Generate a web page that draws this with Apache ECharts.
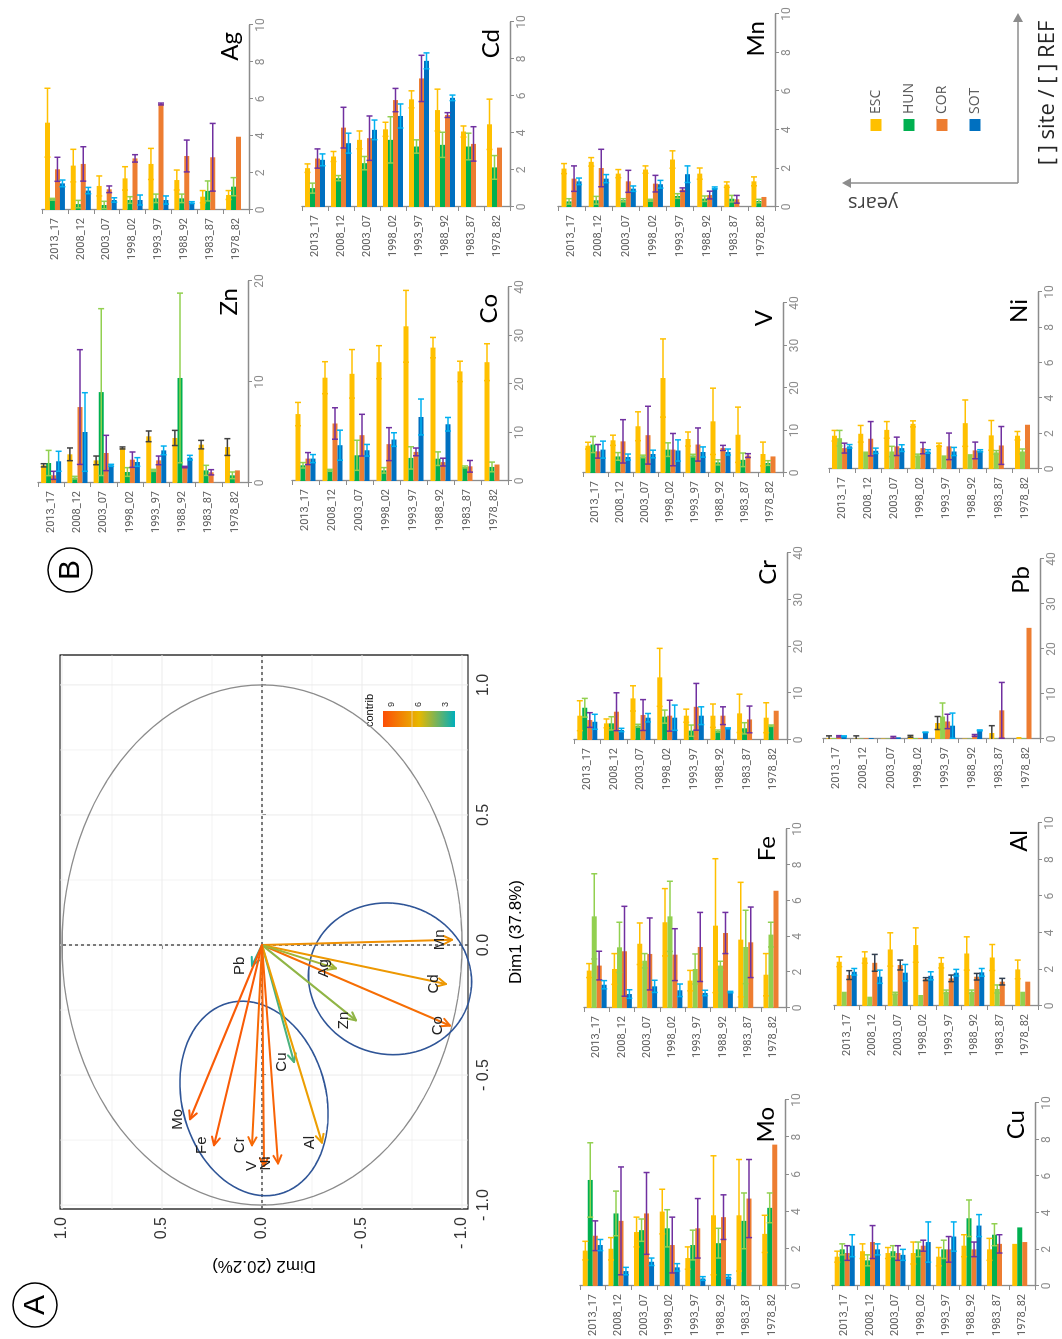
<!DOCTYPE html>
<html>
<head>
<meta charset="utf-8">
<script src="https://cdn.jsdelivr.net/npm/echarts@6/dist/echarts.min.js"></script>
<style>
  html, body { margin: 0; padding: 0; background: #fff; width: 1062px; height: 1339px; overflow: hidden; }
  /* the figure is laid out in landscape and turned a quarter turn */
  #fig { position: absolute; left: 0; top: 0; width: 1339px; height: 1062px;
         transform-origin: 0 0; transform: translateY(1339px) rotate(-90deg); }
</style>
</head>
<body>
<div id="fig"></div>
<script>
// ---------------- data ----------------
const YEARS = ['2013_17', '2008_12', '2003_07', '1998_02', '1993_97', '1988_92', '1983_87', '1978_82'];
const SITES = ['ESC', 'HUN', 'COR', 'SOT'];

// site / REF ratios, one row per site (ESC, HUN, COR, SOT); *Sd = standard deviation
const ag   = [[4.72, 2.40, 1.30, 1.71, 2.49, 1.62, 0.72, 0.81],
              [0.58, 0.32, 0.27, 0.54, 0.63, 0.63, 1.03, 1.26],
              [2.20, 2.49, 1.12, 2.79, 5.73, 2.92, 2.85, 3.96],
              [1.44, 1.05, 0.54, 0.54, 0.54, 0.40, null, null]];
const agSd = [[1.86, 0.88, 0.54, 0.63, 0.84, 0.54, 0.33, 0.24],
              [0.05, 0.20, 0.20, 0.18, 0.23, 0.23, 0.54, 0.49],
              [0.65, 0.93, 0.18, 0.20, 0.05, 0.86, 1.83, 0],
              [0.18, 0.17, 0.12, 0.27, 0.22, 0.05, null, null]];

const cd   = [[2.10, 2.73, 3.63, 4.20, 5.82, 5.24, 4.08, 4.47],
              [1.02, 1.56, 2.37, 3.63, 3.27, 3.36, 3.27, 2.14],
              [2.62, 4.29, 3.72, 5.78, 6.95, 4.97, 3.41, 3.21],
              [2.55, 3.45, 4.17, 4.92, 7.90, 5.90, null, null]];
const cdSd = [[0.23, 0.27, 0.48, 0.38, 0.46, 1.13, 0.30, 1.36],
              [0.27, 0.14, 0.36, 1.25, 0.36, 0.68, 0.72, 0.64],
              [0.52, 1.10, 1.20, 0.63, 1.25, 0.13, 0.93, 0],
              [0.32, 0.54, 0.53, 0.65, 0.43, 0.15, null, null]];

const mn   = [[1.99, 2.34, 1.73, 1.94, 2.46, 1.73, 1.16, 1.33],
              [0.29, 0.35, 0.35, 0.35, 0.57, 0.43, 0.43, 0.31],
              [1.47, 2.02, 1.33, 1.21, 0.90, 0.62, 0.40, 0.52],
              [1.33, 1.47, 0.95, 1.18, 1.70, 0.99, null, null]];
const mnSd = [[0.26, 0.22, 0.21, 0.19, 0.45, 0.29, 0.14, 0.23],
              [0.14, 0.20, 0.08, 0.05, 0.12, 0.14, 0.17, 0.09],
              [0.66, 0.97, 0.57, 0.43, 0.09, 0.20, 0.20, 0],
              [0.17, 0.21, 0.14, 0.20, 0.43, 0.05, null, null]];

const zn   = [[1.75, 2.84, 2.24, 3.47, 4.62, 4.46, 3.80, 3.56],
              [1.98, 0.53, 9.00, 1.09, 1.25, 10.4, 1.25, 0.76],
              [0.76, 7.52, 2.97, 2.31, 2.24, 1.58, 1.06, 1.25],
              [2.15, 5.05, 1.75, 2.08, 3.23, 2.51, null, null]];
const znSd = [[0.16, 0.63, 0.43, 0.10, 0.53, 0.75, 0.42, 0.83],
              [1.25, 0.13, 8.26, 0.43, 0.10, 8.40, 0.50, 0.33],
              [0.40, 5.68, 1.75, 0.76, 0.43, 0.07, 0.26, 0],
              [0.99, 3.89, 0.10, 0.43, 0.43, 0.23, null, null]];

const co   = [[13.8, 21.3, 22.1, 24.5, 31.9, 27.5, 22.6, 24.5],
              [3.24, 2.20, 5.30, 2.20, 4.76, 4.60, 2.90, 2.90],
              [4.62, 11.86, 9.45, 7.60, 6.00, 3.90, 3.03, 3.40],
              [4.62, 7.38, 6.34, 8.55, 13.2, 11.7, null, null]];
const coSd = [[2.4, 3.3, 5.0, 3.4, 7.4, 2.1, 2.1, 3.8],
              [0.56, 0.20, 3.10, 0.56, 2.30, 1.40, 0.20, 1.00],
              [1.24, 3.24, 4.30, 3.40, 0.80, 0.80, 1.20, 0],
              [0.83, 3.10, 1.20, 1.40, 3.70, 1.40, null, null]];

const v    = [[6.43, 7.70, 11.0, 22.35, 8.00, 12.16, 9.00, 4.47],
              [6.70, 3.90, 3.90, 5.50, 4.10, 2.50, 3.10, 2.35],
              [5.10, 7.45, 8.90, 5.50, 6.70, 5.90, 4.10, 3.90],
              [5.50, 3.76, 4.47, 5.30, 4.94, 4.94, null, null]];
const vSd  = [[0.80, 1.20, 3.40, 9.20, 1.65, 7.80, 6.50, 2.80],
              [1.90, 0.90, 0.30, 1.60, 0.30, 0.60, 1.60, 0.55],
              [1.60, 5.10, 6.80, 3.80, 3.90, 0.60, 0.45, 0],
              [2.00, 0.70, 0.90, 2.50, 1.20, 0.70, null, null]];

const ni   = [[1.88, 1.99, 2.21, 2.55, 1.37, 2.59, 1.90, 1.88],
              [1.74, 0.99, 0.99, 0.77, 0.77, 0.84, 0.94, 0.99],
              [1.18, 1.71, 1.28, 1.18, 1.28, 1.05, 1.33, 2.50],
              [1.28, 1.03, 1.18, 0.99, 0.99, 1.03, null, null]];
const niSd = [[0.30, 0.47, 0.47, 0.17, 0.09, 1.31, 0.84, 0.24],
              [0.44, 0, 0.29, 0.07, 0, 0, 0.10, 0.14],
              [0.28, 0.97, 0.52, 0.32, 0.75, 0.47, 1.07, 0],
              [0.10, 0.15, 0.19, 0.10, 0.23, 0.06, null, null]];

const cr   = [[5.20, 3.56, 8.90, 13.4, 5.20, 5.20, 5.70, 4.77],
              [6.90, 3.56, 3.06, 5.00, 2.00, 1.92, 2.50, 3.06],
              [4.27, 6.05, 5.34, 5.20, 7.10, 5.20, 4.40, 6.26],
              [3.90, 2.14, 4.77, 4.77, 5.20, 2.50, null, null]];
const crSd = [[3.20, 0.94, 2.70, 6.20, 1.40, 2.50, 4.10, 3.20],
              [2.00, 1.42, 0.30, 1.40, 1.20, 0.22, 1.20, 0.15],
              [1.57, 4.05, 3.30, 3.30, 5.00, 1.90, 2.86, 0],
              [1.60, 0.36, 0.90, 2.70, 1.90, 0.10, null, null]];

const pb   = [[0.20, 0.10, 0.10, 0.60, 3.55, 0.10, 1.33, 0.45],
              [0.20, 0.10, 0.10, 0.20, 5.00, 0.10, 0.10, 0.15],
              [0.60, 0.15, 0.37, 0.20, 3.90, 0.80, 6.37, 24.7],
              [0.60, 0.20, 0.37, 1.48, 2.96, 1.92, null, null]];
const pbSd = [[0.50, 0.60, 0, 0.20, 1.45, 0, 1.63, 0],
              [0, 0, 0, 0, 3.00, 0, 0, 0],
              [0.15, 0, 0.20, 0, 1.60, 0.20, 6.20, 0],
              [0.10, 0, 0, 0.05, 2.80, 0.10, null, null]];

const fe   = [[2.09, 2.18, 3.59, 4.79, 1.53, 4.60, 3.82, 1.86],
              [5.12, 3.39, 2.64, 5.12, 2.18, 2.37, 3.41, 4.10],
              [2.37, 3.17, 3.02, 2.98, 3.41, 4.19, 3.67, 6.55],
              [1.30, 0.78, 1.21, 0.99, 0.84, 0.89, null, null]];
const feSd = [[0.39, 0.86, 1.16, 1.88, 0.57, 3.74, 3.20, 1.18],
              [2.38, 1.40, 0.40, 1.96, 0.84, 0.24, 2.05, 0.69],
              [0.80, 2.51, 2.01, 1.45, 1.93, 1.15, 1.97, 0],
              [0.23, 0.24, 0.34, 0.35, 0.15, 0.04, null, null]];

const al   = [[2.42, 2.65, 3.09, 3.33, 2.36, 2.87, 2.65, 2.00],
              [0.78, 0.51, 0.69, 0.60, 0.78, 0.78, 0.93, 0.78],
              [1.69, 2.36, 2.24, 1.47, 1.51, 1.60, 1.33, 1.33],
              [1.87, 1.60, 1.82, 1.65, 1.82, 1.84, null, null]];
const alSd = [[0.27, 0.31, 0.91, 0.94, 0.28, 0.91, 0.71, 0.51],
              [0, 0, 0.06, 0, 0.09, 0.09, 0.22, 0],
              [0.24, 0.46, 0.27, 0.08, 0.18, 0.18, 0.18, 0],
              [0.18, 0.36, 0.45, 0.22, 0.18, 0.21, null, null]];

const mo   = [[1.90, 2.00, 2.90, 4.00, 1.50, 3.80, 3.80, 2.80],
              [5.70, 3.90, 3.00, 3.10, 2.20, 2.30, 3.50, 4.20],
              [2.70, 3.50, 3.90, 2.20, 3.10, 3.70, 4.70, 7.60],
              [2.20, 0.80, 1.30, 1.00, 0.40, 0.50, null, null]];
const moSd = [[0.50, 0.60, 0.80, 1.20, 0.60, 3.20, 3.00, 1.00],
              [2.00, 1.20, 0.60, 1.00, 0.80, 0.80, 1.50, 0.80],
              [0.80, 2.90, 2.20, 1.50, 1.60, 1.20, 2.10, 0],
              [0.30, 0.20, 0.20, 0.20, 0.10, 0.10, null, null]];

const cu   = [[1.60, 1.90, 1.80, 1.80, 1.60, 2.20, 2.00, 2.30],
              [2.00, 1.40, 1.90, 2.00, 2.00, 3.70, 2.80, 3.20],
              [1.80, 2.40, 1.80, 2.20, 2.00, 2.00, 2.30, 2.40],
              [2.20, 2.00, 1.70, 2.40, 2.70, 3.30, null, null]];
const cuSd = [[0.30, 0.40, 0.30, 0.60, 0.50, 0.60, 0.60, 0],
              [0.30, 0.30, 0.30, 0.40, 0.50, 1.00, 0.60, 0],
              [0.40, 0.90, 0.40, 0.30, 0.70, 0.40, 0.50, 0],
              [0.60, 0.30, 0.30, 1.10, 0.80, 0.60, null, null]];

// PCA of the elements: coordinates on Dim1 / Dim2 and contribution (%)
const PCA_VARS    = ['Mn', 'Cd', 'Co', 'Ag', 'Zn', 'Pb', 'Cu', 'Al', 'Mo', 'Fe', 'Cr', 'V', 'Ni'];
const PCA_DIM1    = [0.02, -0.15, -0.31, -0.09, -0.29, -0.08, -0.45, -0.76, -0.67, -0.77, -0.77, -0.85, -0.84];
const PCA_DIM2    = [-0.95, -0.92, -0.94, -0.37, -0.47, 0.05, -0.16, -0.30, 0.36, 0.24, 0.05, -0.01, -0.08];
const PCA_CONTRIB = [7.5, 7.2, 8.8, 4.8, 4.5, 2.6, 3.3, 7.0, 9.5, 9.5, 9.0, 9.2, 9.2];
const PCA_TICKS   = [-1, -0.5, 0, 0.5, 1];
const CONTRIB_TICKS = [3, 6, 9];

// ---------------- styling ----------------
const SITE_COLOR = { ESC: '#FFC000', HUN: '#00B050', COR: '#ED7D31', SOT: '#0070C0' };
const HUN_LIGHT = '#92D050';
const ERR_COLOR = { ESC: '#FFC000', HUN: '#92D050', COR: '#7030A0', SOT: '#00B0F0' };
const AXIS_GREY = '#8C8C8C';
const BAR_W = 5;

// panels: element, data, sd, axis max, tick step, plot box (left, right, top, bottom in px)
const PANELS = [
  { el: 'Ag', d: ag, sd: agSd, max: 10, step: 2,  box: [1129, 1314, 42, 249] },
  { el: 'Cd', d: cd, sd: cdSd, max: 10, step: 2,  box: [1132, 1317, 302, 510] },
  { el: 'Mn', d: mn, sd: mnSd, max: 10, step: 2,  box: [1132, 1325, 558, 775] },
  { el: 'Zn', d: zn, sd: znSd, max: 20, step: 10, box: [856, 1058, 38, 248], err: { ESC: '#404040' } },
  { el: 'Co', d: co, sd: coSd, max: 40, step: 10, box: [858, 1052, 292, 508] },
  { el: 'V',  d: v,  sd: vSd,  max: 40, step: 10, box: [866, 1036, 583, 783] },
  { el: 'Ni', d: ni, sd: niSd, max: 10, step: 2,  box: [870, 1047, 829, 1038], hun: HUN_LIGHT },
  { el: 'Cr', d: cr, sd: crSd, max: 40, step: 10, box: [599, 786, 574, 787] },
  { el: 'Pb', d: pb, sd: pbSd, max: 40, step: 10, box: [600, 780, 823, 1040], hun: HUN_LIGHT, err: { ESC: '#404040' } },
  { el: 'Fe', d: fe, sd: feSd, max: 10, step: 2,  box: [331, 510, 584, 786], hun: HUN_LIGHT },
  { el: 'Al', d: al, sd: alSd, max: 10, step: 2,  box: [333, 516, 834, 1038], hun: HUN_LIGHT, err: { COR: '#333F50' } },
  { el: 'Mo', d: mo, sd: moSd, max: 10, step: 2,  box: [52, 239, 580, 785] },
  { el: 'Cu', d: cu, sd: cuSd, max: 10, step: 2,  box: [52, 236, 832, 1035] }
];

// PCA plot box
const PCA_BOX = [130, 684, 60, 468];
const PCA_X = [-1.015, 1.115];
const PCA_Y = [-1.03, 1.01];

// ---------------- render helpers ----------------
function errorBar(params, api) {
  const m = api.value(0), j = api.value(1), k = api.value(2), s = api.value(3);
  if (!(s > 0) || isNaN(m)) return;
  const lo = api.coord([Math.max(0, m - s), j]);
  const hi = api.coord([m + s, j]);
  const y = lo[1] + (k - 1.5) * BAR_W;
  const st = { stroke: api.visual('color'), lineWidth: 1.5 };
  const kids = [
    { type: 'line', shape: { x1: lo[0], y1: y, x2: hi[0], y2: y }, style: st },
    { type: 'line', shape: { x1: hi[0], y1: y - 3, x2: hi[0], y2: y + 3 }, style: st }
  ];
  if (m - s > 0) kids.push({ type: 'line', shape: { x1: lo[0], y1: y - 3, x2: lo[0], y2: y + 3 }, style: st });
  return { type: 'group', children: kids };
}

const grids = [], xAxes = [], yAxes = [], series = [], titles = [];

// PCA grid (index 0)
grids.push({ left: PCA_BOX[0], width: PCA_BOX[1] - PCA_BOX[0], top: PCA_BOX[2], height: PCA_BOX[3] - PCA_BOX[2],
             show: true, borderColor: '#000', borderWidth: 1.2, backgroundColor: '#fff' });
xAxes.push({ gridIndex: 0, type: 'value', min: PCA_X[0], max: PCA_X[1], name: 'Dim1 (37.8%)',
  nameLocation: 'middle', nameGap: 40, nameTextStyle: { fontSize: 17, color: '#000', fontFamily: 'Liberation Sans' },
  axisLine: { show: false }, splitLine: { show: false },
  axisTick: { show: true, customValues: PCA_TICKS, length: 4, lineStyle: { color: '#333' } },
  axisLabel: { customValues: PCA_TICKS, fontSize: 16, color: '#333', margin: 8, fontFamily: 'Liberation Sans',
               formatter: val => (val < 0 ? '- ' : '') + Math.abs(val).toFixed(1) } });
yAxes.push({ gridIndex: 0, type: 'value', min: PCA_Y[0], max: PCA_Y[1], name: 'Dim2 (20.2%)',
  nameLocation: 'middle', nameGap: 48, nameTextStyle: { fontSize: 17, color: '#000', fontFamily: 'Liberation Sans' },
  axisLine: { show: false }, splitLine: { show: false },
  axisTick: { show: true, customValues: PCA_TICKS, length: 4, lineStyle: { color: '#333' } },
  axisLabel: { customValues: PCA_TICKS, fontSize: 16, color: '#333', margin: 8, fontFamily: 'Liberation Sans',
               formatter: val => (val < 0 ? '- ' : '') + Math.abs(val).toFixed(1) } });

// background grid lines, zero lines, correlation circle
series.push({
  type: 'custom', xAxisIndex: 0, yAxisIndex: 0, silent: true, z: 1,
  data: [[0, 0]],
  renderItem: function (params, api) {
    const kids = [];
    const minor = [-0.75, -0.25, 0.25, 0.75];
    const x0 = api.coord([PCA_X[0], 0])[0], x1 = api.coord([PCA_X[1], 0])[0];
    const y0 = api.coord([0, PCA_Y[0]])[1], y1 = api.coord([0, PCA_Y[1]])[1];
    PCA_TICKS.concat(minor).forEach(t => {
      const w = PCA_TICKS.indexOf(t) >= 0 ? 1 : 0.6;
      const px = api.coord([t, 0])[0];
      const py = api.coord([0, t])[1];
      if (t >= PCA_X[0] && t <= PCA_X[1]) kids.push({ type: 'line', shape: { x1: px, y1: y0, x2: px, y2: y1 }, style: { stroke: '#EBEBEB', lineWidth: w } });
      if (t >= PCA_Y[0] && t <= PCA_Y[1]) kids.push({ type: 'line', shape: { x1: x0, y1: py, x2: x1, y2: py }, style: { stroke: '#EBEBEB', lineWidth: w } });
    });
    const o = api.coord([0, 0]);
    kids.push({ type: 'line', shape: { x1: o[0], y1: y0, x2: o[0], y2: y1 }, style: { stroke: '#000', lineWidth: 1, lineDash: [3, 3] } });
    kids.push({ type: 'line', shape: { x1: x0, y1: o[1], x2: x1, y2: o[1] }, style: { stroke: '#000', lineWidth: 1, lineDash: [3, 3] } });
    const circ = [];
    for (let a = 0; a <= 360; a += 3) { const r = a * Math.PI / 180; circ.push(api.coord([Math.cos(r), Math.sin(r)])); }
    kids.push({ type: 'polyline', shape: { points: circ }, style: { stroke: '#8C8C8C', lineWidth: 1.3, fill: 'none' } });
    return { type: 'group', children: kids };
  }
});

// hand drawn groupings: centre (Dim1, Dim2), half axes, tilt in degrees
const GROUPS = [[-0.13, -0.64, 0.29, 0.41, 15], [-0.59, 0.04, 0.38, 0.36, -15]];
series.push({
  type: 'custom', xAxisIndex: 0, yAxisIndex: 0, silent: true, z: 4,
  data: GROUPS,
  renderItem: function (params, api) {
    const g = GROUPS[params.dataIndex];
    const c = api.coord([g[0], g[1]]);
    const sx = api.size([1, 0])[0], sy = api.size([0, 1])[1];
    const t = g[4] * Math.PI / 180, pts = [];
    for (let a = 0; a <= 360; a += 4) {
      const r = a * Math.PI / 180;
      const ex = g[2] * sx * Math.cos(r), ey = g[3] * sy * Math.sin(r);
      pts.push([c[0] + ex * Math.cos(t) - ey * Math.sin(t), c[1] + ex * Math.sin(t) + ey * Math.cos(t)]);
    }
    return { type: 'polyline', shape: { points: pts }, style: { stroke: '#2F5597', lineWidth: 1.6, fill: 'none' } };
  }
});

// variable arrows coloured by contribution, names set just above the arrow tips
const pcaArrowIndex = series.length;
series.push({
  type: 'custom', xAxisIndex: 0, yAxisIndex: 0, z: 5,
  encode: { x: 0, y: 1 },
  data: PCA_VARS.map((n, i) => [PCA_DIM1[i], PCA_DIM2[i], PCA_CONTRIB[i]]),
  renderItem: function (params, api) {
    const i = params.dataIndex;
    const o = api.coord([0, 0]), p = api.coord([api.value(0), api.value(1)]);
    const col = api.visual('color');
    const dx = p[0] - o[0], dy = p[1] - o[1], L = Math.hypot(dx, dy) || 1;
    const ux = dx / L, uy = dy / L, hl = 8, hw = 4;
    const b = [p[0] - ux * hl, p[1] - uy * hl];
    const st = { stroke: col, lineWidth: 2, lineCap: 'round', lineJoin: 'round', fill: 'none' };
    return { type: 'group', children: [
      { type: 'line', shape: { x1: o[0], y1: o[1], x2: p[0], y2: p[1] }, style: st },
      { type: 'polyline', shape: { points: [[b[0] - uy * hw, b[1] + ux * hw], p, [b[0] + uy * hw, b[1] - ux * hw]] }, style: st },
      { type: 'text', x: p[0], y: p[1] - 5, style: { text: PCA_VARS[i], fill: '#222', fontSize: 15, fontFamily: 'Liberation Sans',
          align: 'center', verticalAlign: 'bottom' } }
    ] };
  }
});

// element panels
PANELS.forEach((P, n) => {
  const gi = n + 1;
  const [l, r, t, b] = P.box;
  grids.push({ left: l, width: r - l, top: t, height: b - t });
  xAxes.push({ gridIndex: gi, type: 'value', min: 0, max: P.max, interval: P.step,
    axisLine: { show: true, lineStyle: { color: AXIS_GREY, width: 1.3 } },
    axisTick: { show: true, length: 4, lineStyle: { color: AXIS_GREY } },
    splitLine: { show: false },
    axisLabel: { color: AXIS_GREY, fontSize: 12, margin: 6, fontFamily: 'Roboto' } });
  yAxes.push({ gridIndex: gi, type: 'category', data: YEARS, inverse: true,
    axisLine: { show: true, lineStyle: { color: AXIS_GREY, width: 1.3 } },
    axisTick: { show: true, length: 4, lineStyle: { color: AXIS_GREY } },
    axisLabel: { color: '#595959', fontSize: 11, margin: 8, fontFamily: 'Roboto' } });
  SITES.forEach((s, k) => {
    const col = (s === 'HUN' && P.hun) ? P.hun : SITE_COLOR[s];
    series.push({ type: 'bar', name: s, xAxisIndex: gi, yAxisIndex: gi, data: P.d[k],
      barWidth: BAR_W, barGap: '0%', itemStyle: { color: col }, z: 2, silent: true });
  });
  SITES.forEach((s, k) => {
    const ec = (P.err && P.err[s]) || ERR_COLOR[s];
    series.push({ type: 'custom', name: s + ' sd', xAxisIndex: gi, yAxisIndex: gi, z: 3, silent: true,
      itemStyle: { color: ec }, encode: { x: 0, y: 1 },
      data: YEARS.map((y, j) => [P.d[k][j] == null ? NaN : P.d[k][j], j, k, P.sd[k][j] == null ? 0 : P.sd[k][j]]),
      renderItem: errorBar });
  });
  titles.push({ text: P.el, right: 1339 - r + 2, top: b - 36,
    textStyle: { fontSize: 24, fontWeight: 'normal', color: '#000', fontFamily: 'Lato' } });
});

// ---------------- annotations ----------------
function arrowHead(x, y, dir) {
  const s = 5, L = 9;
  const pts = dir === 'up' ? [[x, y], [x - s, y + L], [x + s, y + L]] : [[x, y], [x - L, y - s], [x - L, y + s]];
  return { type: 'polygon', shape: { points: pts }, style: { fill: AXIS_GREY } };
}
const cbTop = 383, cbBot = 455, cbL = 612, cbR = 628;
const graphics = [
  // panel letters
  { type: 'circle', shape: { cx: 34, cy: 35, r: 22 }, style: { stroke: '#000', fill: 'none', lineWidth: 1.5 } },
  { type: 'text', x: 34, y: 36, style: { text: 'A', fontSize: 30, fill: '#000', align: 'center', verticalAlign: 'middle', fontFamily: 'Liberation Sans' } },
  { type: 'circle', shape: { cx: 769, cy: 70, r: 22 }, style: { stroke: '#000', fill: 'none', lineWidth: 1.5 } },
  { type: 'text', x: 769, y: 71, style: { text: 'B', fontSize: 30, fill: '#000', align: 'center', verticalAlign: 'middle', fontFamily: 'Liberation Sans' } },
  // reading guide for the bar panels
  { type: 'line', shape: { x1: 1156, y1: 1018, x2: 1156, y2: 850 }, style: { stroke: AXIS_GREY, lineWidth: 1.5 } },
  arrowHead(1156, 842, 'up'),
  { type: 'line', shape: { x1: 1156, y1: 1018, x2: 1318, y2: 1018 }, style: { stroke: AXIS_GREY, lineWidth: 1.5 } },
  arrowHead(1326, 1018, 'right'),
  { type: 'text', x: 1136, y: 873, rotation: Math.PI / 2, style: { text: 'years', fontSize: 20, fill: '#404040', align: 'center', verticalAlign: 'middle', fontFamily: 'Open Sans' } },
  { type: 'text', x: 1246, y: 1048, style: { text: '[ ] site / [ ] REF', fontSize: 22, fill: '#262626', align: 'center', verticalAlign: 'middle', fontFamily: 'Open Sans' } },
  // contribution colour bar
  { type: 'text', x: cbL, y: cbTop - 8, style: { text: 'contrib', fontSize: 11, fill: '#000', align: 'left', verticalAlign: 'bottom', fontFamily: 'Liberation Sans' } },
  { type: 'rect', shape: { x: cbL, y: cbTop, width: cbR - cbL, height: cbBot - cbTop },
    style: { fill: new echarts.graphic.LinearGradient(0, 0, 0, 1, [
      { offset: 0, color: '#FC4E07' }, { offset: 0.5, color: '#E7B800' }, { offset: 1, color: '#00AFBB' }]) } }
];
CONTRIB_TICKS.forEach(t => {
  const yy = cbBot - (t - 2) / (10 - 2) * (cbBot - cbTop);
  graphics.push({ type: 'text', x: cbR + 4, y: yy, style: { text: String(t), fontSize: 9, fill: '#333', align: 'left', verticalAlign: 'middle', fontFamily: 'Liberation Sans' } });
});

const chart = echarts.init(document.getElementById('fig'), null, { renderer: 'canvas', width: 1339, height: 1062 });
chart.setOption({
  animation: false,
  backgroundColor: '#fff',
  title: titles,
  grid: grids,
  xAxis: xAxes,
  yAxis: yAxes,
  legend: { orient: 'vertical', left: 1208, top: 869, itemWidth: 12, itemHeight: 11, itemGap: 19, padding: 0,
    icon: 'rect', data: SITES, selectedMode: false,
    textStyle: { fontSize: 14, color: '#595959', fontFamily: 'Open Sans' } },
  visualMap: { show: false, type: 'continuous', min: 2, max: 10, dimension: 2, seriesIndex: pcaArrowIndex,
    inRange: { color: ['#00AFBB', '#E7B800', '#FC4E07'] } },
  series: series,
  graphic: graphics
});
</script>
</body>
</html>
